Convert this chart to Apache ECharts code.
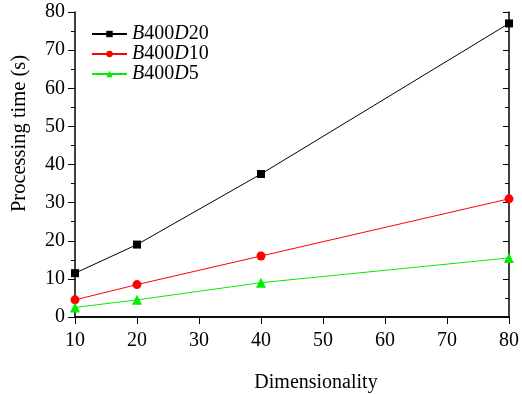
<!DOCTYPE html>
<html><head><meta charset="utf-8">
<script src="https://cdn.jsdelivr.net/npm/echarts@6/dist/echarts.min.js"></script>
<style>html,body{margin:0;padding:0;background:#fff}#c{width:522px;height:394px}</style>
</head><body><div id="c"></div>
<script>
const dims = [10, 20, 40, 80];
const d20 = [11.5, 19, 37.5, 77];
const d10 = [4.5, 8.5, 16, 31];
const d5 = [2.5, 4.5, 9, 15.5];
const names = ['B400D20', 'B400D10', 'B400D5'];
const xTitle = 'Dimensionality';
const yTitle = 'Processing time (s)';

const font = 'Liberation Serif, Times New Roman, serif';
const chart = echarts.init(document.getElementById('c'));
function pairs(v){ return dims.map((d,i)=>[d,v[i]]); }
function mk(name, data, color, symbol, size){
  return {name, type:'line', data:pairs(data), symbol, symbolSize:size,
    lineStyle:{color, width:1}, itemStyle:{color}, xAxisIndex:0, yAxisIndex:0, z:3};
}
const axLine = {show:true, lineStyle:{color:'#000', width:1.5}};
chart.setOption({
  animation:false,
  grid:{left:75, right:13, top:12, bottom:77, containLabel:false, outerBoundsMode:'none'},
  legend:{
    left:91, top:24, padding:0, orient:'vertical', itemWidth:35, itemHeight:8, itemGap:0,
    data:names,
    formatter: n => '{i|B}400{i|D}' + n.slice(5),
    textStyle:{fontFamily:font, fontSize:20, lineHeight:19, color:'#000',
      rich:{i:{fontStyle:'italic', fontFamily:font, fontSize:20, lineHeight:19, color:'#000'}}}
  },
  xAxis:[{
    type:'value', min:10, max:80, interval:10, position:'bottom',
    name:xTitle, nameLocation:'middle', nameGap:56,
    nameTextStyle:{fontFamily:font, fontSize:20, color:'#000', padding:[0,0,0,48]},
    axisLine:axLine, axisTick:{show:true, inside:false, length:7, lineStyle:{color:'#000',width:1}},
    axisLabel:{fontFamily:font, fontSize:20, color:'#000', margin:14},
    splitLine:{show:false}
  },{
    type:'value', min:10, max:80, interval:10, position:'top',
    axisLine:axLine, axisTick:{show:true, inside:true, length:6, lineStyle:{color:'#000',width:1}},
    axisLabel:{show:false}, splitLine:{show:false}
  }],
  yAxis:[{
    type:'value', min:0, max:80, interval:10, position:'left',
    name:yTitle, nameLocation:'middle', nameGap:45, nameRotate:90,
    nameTextStyle:{fontFamily:font, fontSize:20.5, color:'#000', padding:[0,0,0,62]},
    axisLine:axLine, axisTick:{show:true, inside:false, length:7, lineStyle:{color:'#000',width:1}},
    minorTick:{show:true, splitNumber:2, length:4, lineStyle:{color:'#000',width:1}},
    axisLabel:{fontFamily:font, fontSize:20, color:'#000', margin:10},
    splitLine:{show:false}
  },{
    type:'value', min:0, max:80, interval:10, position:'right',
    axisLine:axLine, axisTick:{show:true, inside:true, length:6, lineStyle:{color:'#000',width:1}},
    minorTick:{show:true, splitNumber:2, length:4, lineStyle:{color:'#000',width:1}},
    axisLabel:{show:false}, splitLine:{show:false}
  }],
  series:[
    mk(names[0], d20, '#000000', 'rect', 8),
    mk(names[1], d10, '#ff0000', 'circle', 9),
    mk(names[2], d5, '#00ee00', 'triangle', 10)
  ]
});
</script></body></html>
